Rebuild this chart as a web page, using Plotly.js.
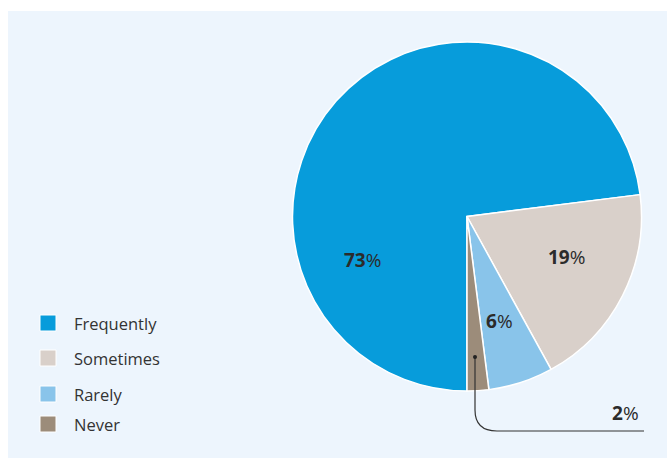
<!DOCTYPE html>
<html>
<head>
<meta charset="utf-8">
<script src="https://cdn.plot.ly/plotly-3.0.1.min.js"></script>
<style>
  html, body { margin: 0; padding: 0; background: #ffffff; }
  #chart { width: 667px; height: 458px; }
</style>
</head>
<body>
<div id="chart"></div>
<script>
// ---- data ----
const categories = ["Frequently", "Sometimes", "Rarely", "Never"];
const shares = [73, 19, 6, 2];
const sliceColors = ["#079cdb", "#d9d0ca", "#89c4ea", "#9c8c7a"];

// ---- layout helpers (pixel -> paper, full-size plot area) ----
const W = 667, H = 458;
const px = x => x / W;
const py = y => 1 - y / H;

const FONT = "Open Sans, Noto Sans, sans-serif";
const TXT = "#2b2b2b";

// percent label positions (pixel centres)
const labelPos = [
  [362, 260],
  [566, 257],
  [499, 321],
  [625, 413]
];

// legend positions
const legendRows = [323, 358, 394, 424];

const annotations = [];
const shapes = [];

// background panel
shapes.push({
  type: "rect", xref: "paper", yref: "paper", layer: "below",
  x0: px(8), x1: 1, y0: 0, y1: py(11),
  fillcolor: "#edf5fd", line: { width: 0 }
});

shares.forEach((v, i) => {
  annotations.push({
    xref: "paper", yref: "paper",
    x: px(labelPos[i][0]), y: py(labelPos[i][1]),
    xanchor: "center", yanchor: "middle",
    text: "<b>" + v + "</b>%",
    showarrow: false,
    font: { family: FONT, size: 19, color: TXT }
  });
});

categories.forEach((c, i) => {
  const cy = legendRows[i];
  shapes.push({
    type: "rect", xref: "paper", yref: "paper",
    x0: px(40), x1: px(56), y0: py(cy + 8), y1: py(cy - 8),
    fillcolor: sliceColors[i], line: { color: "#ffffff", width: 1 }
  });
  annotations.push({
    xref: "paper", yref: "paper",
    x: px(72), y: py(cy),
    xanchor: "left", yanchor: "middle",
    text: c, showarrow: false,
    font: { family: FONT, size: 16.5, color: "#333333" }
  });
});

// callout for the small slice
const path = "M " + px(475) + "," + py(357) +
  " L " + px(475) + "," + py(410) +
  " Q " + px(475) + "," + py(431) + " " + px(497) + "," + py(431) +
  " L " + px(644) + "," + py(431);
shapes.push({
  type: "path", xref: "paper", yref: "paper", path: path,
  line: { color: "#333333", width: 1.2 }
});
shapes.push({
  type: "circle", xref: "paper", yref: "paper",
  x0: px(473), x1: px(477), y0: py(359), y1: py(355),
  fillcolor: "#222222", line: { width: 0 }
});

const trace = {
  type: "pie",
  labels: categories,
  values: shares,
  sort: false,
  direction: "clockwise",
  rotation: 180,
  marker: { colors: sliceColors, line: { color: "#ffffff", width: 1.5 } },
  textinfo: "none",
  hoverinfo: "none",
  showlegend: false,
  domain: { x: [px(292), px(642)], y: [py(391), py(42)] }
};

const layout = {
  width: W, height: H,
  margin: { l: 0, r: 0, t: 0, b: 0 },
  paper_bgcolor: "#ffffff",
  showlegend: false,
  shapes: shapes,
  annotations: annotations
};

Plotly.newPlot("chart", [trace], layout, { displayModeBar: false, staticPlot: true });
</script>
</body>
</html>
